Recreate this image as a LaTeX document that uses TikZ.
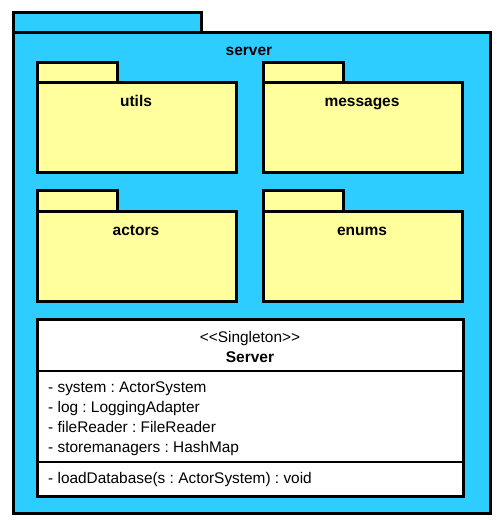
\documentclass[tikz,border=0pt]{standalone}
\usepackage{fontspec}
\setmainfont{Liberation Sans}
\usetikzlibrary{positioning}
\definecolor{pkgblue}{RGB}{45,205,255}
\definecolor{pkgyellow}{RGB}{255,255,155}

\begin{document}
\frenchspacing
\begin{tikzpicture}[x=1pt,y=-1pt,
  outline/.style={draw=black,line width=3pt},
  pkgname/.style={anchor=base,font=\bfseries\fontsize{15.5}{18}\selectfont,inner sep=0pt},
  member/.style={anchor=base west,font=\fontsize{15.4}{18}\selectfont,inner sep=0pt}]

\useasboundingbox (0,0) rectangle (496,529);
\draw[outline,fill=pkgblue] (13,13) rectangle (201,33);
\draw[outline,fill=pkgblue] (13,33) rectangle (490,513);
\node[pkgname] (server) at (249,56) {server};

\foreach \x/\y/\name in {37/63/utils,263/63/messages,37/191/actors,263/191/enums} {
  \draw[outline,fill=pkgyellow] (\x,\y) rectangle ++(80,20);
  \draw[outline,fill=pkgyellow] (\x,\y+20) rectangle ++(199,90);
  \node[pkgname] (\name) at (\x+99,\y+44) {\name};
}

\draw[outline,fill=white] (37,319) rectangle (463,496);
\draw[line width=1.5pt] (37,371) -- (463,371);
\draw[line width=1.5pt] (37,462) -- (463,462);
\node[member,anchor=base] (stereo) at (250,342) {<{}<Singleton>{}>};
\node[pkgname] (cls) at (250,362) {Server};
\node[member] (attr1) at (48,392) {- system : ActorSystem};
\node[member] (attr2) at (48,412) {- log : LoggingAdapter};
\node[member] (attr3) at (48,432) {- fileReader : FileReader};
\node[member] (attr4) at (48,452) {- storemanagers : HashMap};
\node[member] (op1) at (48,483) {- loadDatabase(s : ActorSystem) : void};
\end{tikzpicture}
\end{document}
